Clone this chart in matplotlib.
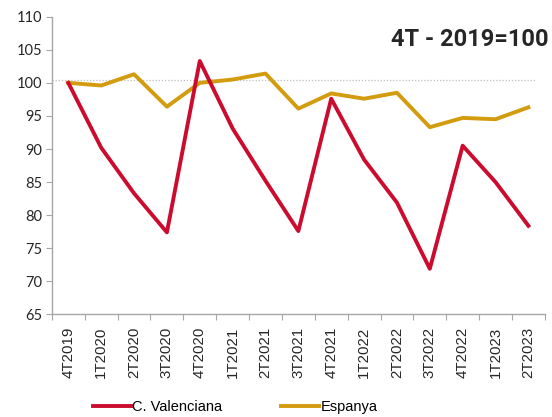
import numpy as np
import matplotlib
matplotlib.use("Agg")
import matplotlib.pyplot as plt

quarters = ["4T2019", "1T2020", "2T2020", "3T2020", "4T2020", "1T2021", "2T2021",
            "3T2021", "4T2021", "1T2022", "2T2022", "3T2022", "4T2022", "1T2023", "2T2023"]
valenciana = [100.0, 90.2, 83.3, 77.4, 103.3, 93.1, 85.2, 77.6, 97.6, 88.4, 81.9, 71.9, 90.5, 85.0, 78.4]
espanya = [100.0, 99.6, 101.3, 96.4, 100.0, 100.5, 101.4, 96.1, 98.4, 97.6, 98.5, 93.3, 94.7, 94.5, 96.3]
y_ticks = list(range(65, 111, 5))
base_line = 100.4

red = "#CC0C2F"
gold = "#D39B0E"
axis_grey = "#A6A6A6"

fig = plt.figure(figsize=(5.52, 4.17), dpi=100)
ax = fig.add_axes([0.094, 0.246, 0.893, 0.714])

x = np.arange(len(quarters))
ax.axhline(base_line, xmin=0, xmax=0.98, color="#BFBFBF", linestyle=(0, (1, 1.5)), linewidth=0.9, zorder=1)
ax.plot(x, valenciana, color=red, linewidth=2.8, label="C. Valenciana", zorder=3)
ax.plot(x, espanya, color=gold, linewidth=2.8, label="Espanya", zorder=2)

ax.set_xlim(-0.5, len(quarters) - 0.5)
ax.set_ylim(65, 110)
ax.set_yticks(y_ticks)
ax.set_yticklabels([str(v) for v in y_ticks], fontfamily="Lato", fontsize=10.5, color="#262626")

# category boundaries get the tick marks, labels sit in the middle
ax.set_xticks(np.arange(-0.5, len(quarters)))
ax.set_xticklabels([])
ax.set_xticks(x, minor=True)
ax.set_xticklabels(quarters, minor=True, rotation=90, fontfamily="Liberation Sans",
                   fontsize=10.8, color="#262626")
ax.tick_params(axis="x", which="minor", length=0, pad=9)
ax.tick_params(axis="x", which="major", length=4, color=axis_grey)
ax.tick_params(axis="y", length=4, color=axis_grey, pad=3)

for side in ["top", "right"]:
    ax.spines[side].set_visible(False)
for side in ["left", "bottom"]:
    ax.spines[side].set_color(axis_grey)
    ax.spines[side].set_linewidth(1.0)

fig.text(0.993, 0.905, "4T - 2019=100", ha="right", va="center", fontfamily="Roboto",
         fontweight="bold", fontsize=17, color="#262626")

fig.legend(loc="lower left", bbox_to_anchor=(0.158, -0.006), ncol=2, frameon=False,
           prop={"family": "Liberation Sans", "size": 10.5}, handlelength=2.6,
           handletextpad=0.1, columnspacing=4.0, borderaxespad=0)

fig.savefig("out.png", dpi=100)
